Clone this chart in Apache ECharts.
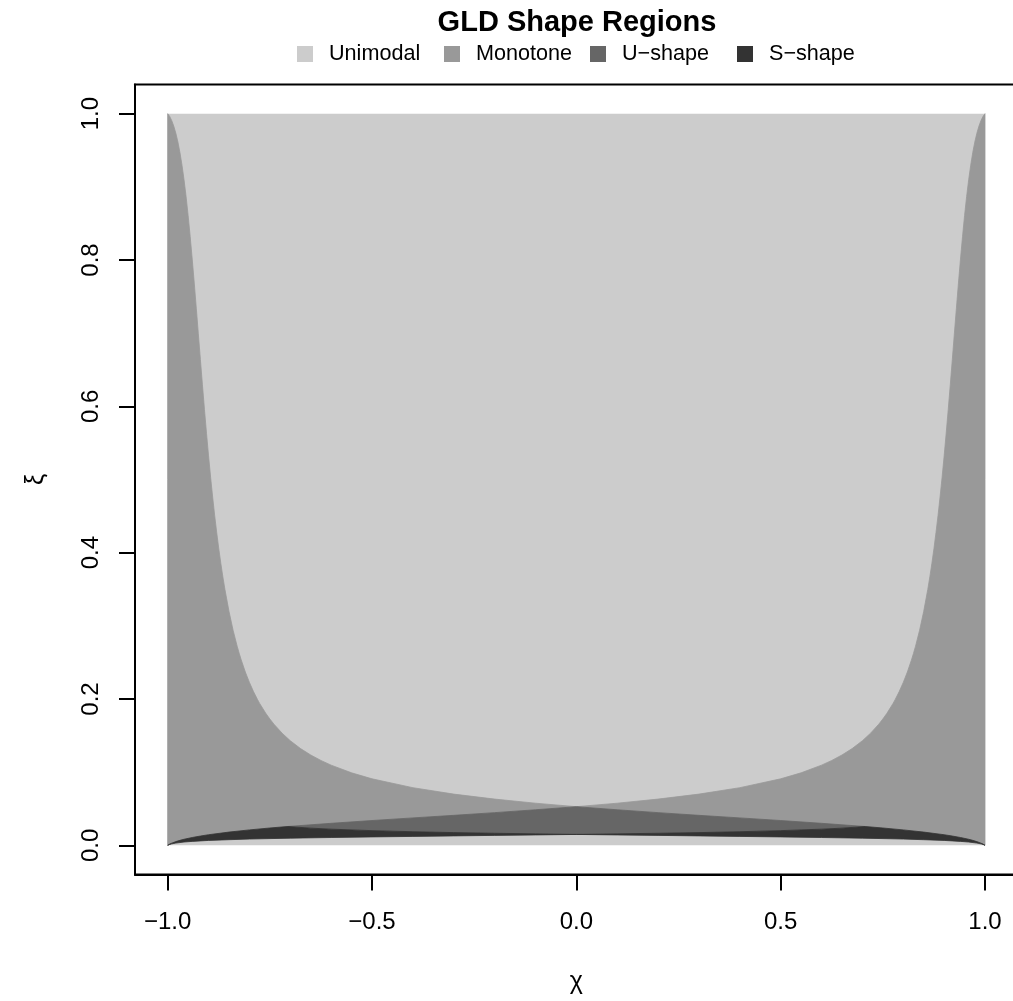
<!DOCTYPE html>
<html>
<head>
<meta charset="utf-8">
<script src="https://cdn.jsdelivr.net/npm/echarts@6/dist/echarts.min.js"></script>
<style>
html,body{margin:0;padding:0;background:#fff;}
#chart{width:1013px;height:1001px;}
</style>
</head>
<body>
<div id="chart"></div>
<script>
// ---- Data (chi on x, xi on y) ----
// Region frame (unimodal background)
const chiRange = [-1, 1];
const xiRange = [0, 1];

// Unimodal / Monotone boundary
const chiA = [-1,-0.995,-0.99,-0.985,-0.98,-0.975,-0.97,-0.965,-0.96,-0.955,-0.95,-0.945,-0.94,-0.935,-0.93,-0.925,-0.92,-0.915,-0.91,-0.905,-0.9,-0.895,-0.89,-0.885,-0.88,-0.875,-0.87,-0.865,-0.86,-0.85,-0.84,-0.83,-0.825,-0.82,-0.81,-0.8,-0.79,-0.78,-0.775,-0.76,-0.75,-0.74,-0.72,-0.7,-0.675,-0.65,-0.625,-0.6,-0.55,-0.5,-0.4,-0.3,-0.2,-0.1,0,
  0.1,0.2,0.3,0.4,0.5,0.55,0.6,0.625,0.65,0.675,0.7,0.72,0.74,0.75,0.76,0.775,0.78,0.79,0.8,0.81,0.82,0.825,0.83,0.84,0.85,0.86,0.865,0.87,0.875,0.88,0.885,0.89,0.895,0.9,0.905,0.91,0.915,0.92,0.925,0.93,0.935,0.94,0.945,0.95,0.955,0.96,0.965,0.97,0.975,0.98,0.985,0.99,0.995,1];
const xiA = [1,0.9961,0.9904,0.9828,0.9731,0.9612,0.9468,0.9296,0.9096,0.8867,0.8608,0.8323,0.8013,0.7685,0.7342,0.6992,0.6641,0.6294,0.5956,0.5632,0.5323,0.5032,0.4760,0.4506,0.4272,0.4054,0.3854,0.3669,0.3499,0.3198,0.2941,0.2722,0.2624,0.2533,0.2369,0.2227,0.2101,0.1991,0.1940,0.1805,0.1727,0.1656,0.1533,0.1430,0.1323,0.1235,0.1160,0.1096,0.0991,0.0909,0.0788,0.0700,0.0632,0.0576,0.0528,
  0.0576,0.0632,0.0700,0.0788,0.0909,0.0991,0.1096,0.1160,0.1235,0.1323,0.1430,0.1533,0.1656,0.1727,0.1805,0.1940,0.1991,0.2101,0.2227,0.2369,0.2533,0.2624,0.2722,0.2941,0.3198,0.3499,0.3669,0.3854,0.4054,0.4272,0.4506,0.4760,0.5032,0.5323,0.5632,0.5956,0.6294,0.6641,0.6992,0.7342,0.7685,0.8013,0.8323,0.8608,0.8867,0.9096,0.9296,0.9468,0.9612,0.9731,0.9828,0.9904,0.9961,1];

// Monotone / (U-shape, S-shape) boundary
const chiB = [-1,-0.995,-0.99,-0.98,-0.97,-0.96,-0.94,-0.92,-0.9,-0.85,-0.8,-0.75,-0.7071,-0.6,-0.5,-0.4,-0.3,-0.2,-0.1,0,
  0.1,0.2,0.3,0.4,0.5,0.6,0.7071,0.75,0.8,0.85,0.9,0.92,0.94,0.96,0.97,0.98,0.99,0.995,1];
const xiB = [0,0.0017,0.0030,0.0051,0.0068,0.0083,0.0107,0.0127,0.0145,0.0181,0.0211,0.0237,0.0257,0.0301,0.0339,0.0375,0.0410,0.0447,0.0486,0.0528,
  0.0486,0.0447,0.0410,0.0375,0.0339,0.0301,0.0257,0.0237,0.0211,0.0181,0.0145,0.0127,0.0107,0.0083,0.0068,0.0051,0.0030,0.0017,0];

// U-shape / S-shape boundary
const chiC = [-0.7071,-0.65,-0.6,-0.5,-0.4,-0.3,-0.2,-0.1,0,0.1,0.2,0.3,0.4,0.5,0.6,0.65,0.7071];
const xiC = [0.0257,0.0235,0.0221,0.0201,0.0186,0.0174,0.0165,0.0157,0.0149,0.0157,0.0165,0.0174,0.0186,0.0201,0.0221,0.0235,0.0257];

// Lower edge of S-shape region
const chiD = [-1,-0.995,-0.99,-0.98,-0.96,-0.94,-0.9,-0.85,-0.8,-0.7,-0.6,-0.5,-0.4,-0.3,-0.2,-0.1,0,
  0.1,0.2,0.3,0.4,0.5,0.6,0.7,0.8,0.85,0.9,0.94,0.96,0.98,0.99,0.995,1];
const xiD = [0,0.0013,0.0020,0.0031,0.0045,0.0054,0.0067,0.0077,0.0086,0.0098,0.0107,0.0115,0.0122,0.0129,0.0136,0.0142,0.0149,
  0.0142,0.0136,0.0129,0.0122,0.0115,0.0107,0.0098,0.0086,0.0077,0.0067,0.0054,0.0045,0.0031,0.0020,0.0013,0];

const regionNames = ['Unimodal', 'Monotone', 'U\u2212shape', 'S\u2212shape'];
const xTicks = [-1, -0.5, 0, 0.5, 1];
const xTickLabels = ['\u22121.0', '\u22120.5', '0.0', '0.5', '1.0'];
const yTicks = [0, 0.2, 0.4, 0.6, 0.8, 1];
const yTickLabels = ['0.0', '0.2', '0.4', '0.6', '0.8', '1.0'];

// ---- Styling ----
const FONT = '"Liberation Sans", Arial, Helvetica, sans-serif';
const regionColors = ['#CCCCCC', '#999999', '#666666', '#333333'];
const legendLeft = [297, 444, 590, 737];

function pts(chi, xi, filter) {
  const out = [];
  for (let i = 0; i < chi.length; i++) {
    if (!filter || filter(chi[i])) out.push([chi[i], xi[i]]);
  }
  return out;
}
const cLo = chiC[0], cHi = chiC[chiC.length - 1];

const polygons = [
  // Unimodal: whole frame
  () => [[chiRange[0], xiRange[0]], [chiRange[1], xiRange[0]], [chiRange[1], xiRange[1]], [chiRange[0], xiRange[1]]],
  // Monotone: between A (top) and B (bottom)
  () => pts(chiA, xiA).concat(pts(chiB, xiB).reverse()),
  // U-shape: between B (top) and C (bottom) inside C's range
  () => pts(chiB, xiB, c => c >= cLo && c <= cHi).concat(pts(chiC, xiC).reverse()),
  // S-shape: top = B outside C range, C inside; bottom = D
  () => pts(chiB, xiB, c => c <= cLo).concat(pts(chiC, xiC), pts(chiB, xiB, c => c >= cHi), pts(chiD, xiD).reverse())
];

function nearestLabel(v, ticks, labels) {
  let best = 0;
  for (let i = 1; i < ticks.length; i++) if (Math.abs(ticks[i] - v) < Math.abs(ticks[best] - v)) best = i;
  return labels[best];
}

const series = regionNames.map((name, k) => ({
  type: 'custom',
  name: name,
  coordinateSystem: 'cartesian2d',
  data: [[0, 0]],
  itemStyle: { color: regionColors[k] },
  silent: true,
  animation: false,
  renderItem: function (params, api) {
    return {
      type: 'polygon',
      shape: { points: polygons[k]().map(p => api.coord(p)) },
      style: { fill: regionColors[k], stroke: regionColors[k], lineWidth: k === 0 ? 0 : 0.8 }
    };
  }
}));

const chart = echarts.init(document.getElementById('chart'), null, { renderer: 'canvas' });
chart.setOption({
  animation: false,
  backgroundColor: '#ffffff',
  title: {
    text: 'GLD Shape Regions',
    left: 577,
    top: 8,
    padding: 0,
    textAlign: 'center',
    textStyle: { fontFamily: FONT, fontSize: 29, fontWeight: 'bold', color: '#000' }
  },
  legend: regionNames.map((name, i) => ({
    data: [name],
    left: legendLeft[i],
    top: 43,
    padding: 0,
    itemWidth: 16,
    itemHeight: 16,
    icon: 'rect',
    selectedMode: false,
    textStyle: { fontFamily: FONT, fontSize: 21.6, color: '#000', padding: [0, 0, 0, 11] }
  })),
  grid: {
    left: 135,
    right: -4.7,
    top: 84.4,
    bottom: 126.4,
    show: true,
    borderColor: '#000',
    borderWidth: 2,
    backgroundColor: 'transparent',
    containLabel: false,
    outerBoundsMode: 'none'
  },
  xAxis: {
    type: 'value',
    min: -1.08,
    max: 1.08,
    name: '\u03C7',
    nameLocation: 'middle',
    nameGap: 95,
    nameTextStyle: { fontFamily: FONT, fontSize: 25, color: '#000' },
    axisLine: { show: true, onZero: false, lineStyle: { color: '#000', width: 2 } },
    axisTick: { show: true, customValues: xTicks, length: 16, inside: false, lineStyle: { color: '#000', width: 2 } },
    axisLabel: {
      customValues: xTicks,
      margin: 36,
      fontFamily: FONT, fontSize: 24, color: '#000',
      formatter: v => nearestLabel(v, xTicks, xTickLabels)
    },
    splitLine: { show: false }
  },
  yAxis: {
    type: 'value',
    min: -0.04,
    max: 1.04,
    name: '\u03BE',
    nameLocation: 'middle',
    nameGap: 86,
    nameTextStyle: { fontFamily: FONT, fontSize: 25, color: '#000' },
    axisLine: { show: true, onZero: false, lineStyle: { color: '#000', width: 2 } },
    axisTick: { show: true, customValues: yTicks, length: 16, inside: false, lineStyle: { color: '#000', width: 2 } },
    axisLabel: {
      customValues: yTicks,
      rotate: 90,
      margin: 32,
      fontFamily: FONT, fontSize: 24, color: '#000',
      formatter: v => nearestLabel(v, yTicks, yTickLabels)
    },
    splitLine: { show: false }
  },
  series: series
});
</script>
</body>
</html>
